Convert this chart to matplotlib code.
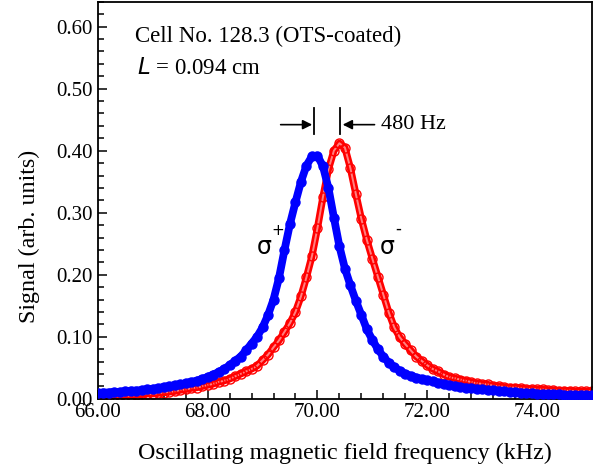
#!/usr/bin/env python3
"""Magnetic resonance signal vs oscillating field frequency, sigma+ / sigma- pumping."""

import matplotlib

matplotlib.use("Agg")
import matplotlib.pyplot as plt
import matplotlib.ticker as ticker
import numpy as np

# frequency grid (kHz), same for both traces
freq_khz = [
    66.0, 66.1, 66.2, 66.3, 66.4, 66.5, 66.6, 66.7, 66.8, 66.9,
    67.0, 67.1, 67.2, 67.3, 67.4, 67.5, 67.6, 67.7, 67.8, 67.9,
    68.0, 68.1, 68.2, 68.3, 68.4, 68.5, 68.6, 68.7, 68.8, 68.9,
    69.0, 69.1, 69.2, 69.3, 69.4, 69.5, 69.6, 69.7, 69.8, 69.9,
    70.0, 70.1, 70.2, 70.3, 70.4, 70.5, 70.6, 70.7, 70.8, 70.9,
    71.0, 71.1, 71.2, 71.3, 71.4, 71.5, 71.6, 71.7, 71.8, 71.9,
    72.0, 72.1, 72.2, 72.3, 72.4, 72.5, 72.6, 72.7, 72.8, 72.9,
    73.0, 73.1, 73.2, 73.3, 73.4, 73.5, 73.6, 73.7, 73.8, 73.9,
    74.0, 74.1, 74.2, 74.3, 74.4, 74.5, 74.6, 74.7, 74.8, 74.9,
    75.0,
]

sigma_plus = [
    0.009, 0.010, 0.010, 0.011, 0.011, 0.012, 0.013, 0.013, 0.014, 0.015,
    0.016, 0.017, 0.019, 0.020, 0.022, 0.023, 0.025, 0.027, 0.029, 0.032,
    0.035, 0.039, 0.043, 0.048, 0.054, 0.061, 0.068, 0.078, 0.089, 0.100,
    0.115, 0.135, 0.160, 0.195, 0.240, 0.282, 0.317, 0.350, 0.376, 0.391,
    0.392, 0.375, 0.340, 0.292, 0.246, 0.210, 0.183, 0.158, 0.135, 0.112,
    0.095, 0.080, 0.068, 0.058, 0.051, 0.045, 0.040, 0.037, 0.034, 0.032,
    0.030, 0.028, 0.026, 0.024, 0.022, 0.021, 0.019, 0.018, 0.017, 0.016,
    0.015, 0.014, 0.014, 0.013, 0.012, 0.011, 0.011, 0.010, 0.009, 0.009,
    0.008, 0.008, 0.007, 0.007, 0.007, 0.006, 0.006, 0.006, 0.006, 0.006,
    0.006,
]

sigma_minus = [
    0.002, 0.003, 0.003, 0.004, 0.004, 0.005, 0.005, 0.006, 0.007, 0.008,
    0.008, 0.009, 0.010, 0.011, 0.012, 0.014, 0.015, 0.017, 0.018, 0.020,
    0.022, 0.024, 0.027, 0.029, 0.032, 0.036, 0.040, 0.044, 0.048, 0.053,
    0.062, 0.071, 0.083, 0.094, 0.108, 0.122, 0.140, 0.165, 0.196, 0.230,
    0.275, 0.325, 0.370, 0.400, 0.412, 0.405, 0.372, 0.330, 0.290, 0.256,
    0.226, 0.197, 0.168, 0.139, 0.115, 0.099, 0.088, 0.078, 0.068, 0.061,
    0.054, 0.048, 0.044, 0.039, 0.035, 0.033, 0.031, 0.029, 0.027, 0.025,
    0.024, 0.023, 0.021, 0.020, 0.019, 0.018, 0.018, 0.017, 0.016, 0.016,
    0.015, 0.015, 0.014, 0.014, 0.013, 0.013, 0.013, 0.012, 0.012, 0.012,
    0.012,
]

peak_plus_khz = 69.945
peak_minus_khz = 70.42

plt.rcParams["font.family"] = ["Liberation Serif", "DejaVu Serif"]

fig = plt.figure(figsize=(6.04, 4.68), dpi=100)
ax = fig.add_axes([0.162, 0.148, 0.818, 0.848])

x = np.array(freq_khz)

# sigma+ : dense filled blue dots
ax.plot(x, sigma_plus, color="#0000ff", linewidth=5.6, solid_capstyle="round", zorder=3)
ax.plot(x, sigma_plus, "o", color="#0000ff", markersize=6.5, zorder=3)

# sigma- : dense open red circles (drawn as a hollow tube)
ax.plot(x, sigma_minus, color="#ff0000", linewidth=5.2, solid_capstyle="round", zorder=2)
ax.plot(x, sigma_minus, color="#ff8080", linewidth=1.4, zorder=2)
ax.plot(x, sigma_minus, "o", mfc="none", mec="#ff0000", mew=1.0, markersize=6.5, zorder=2)

ax.set_xlim(66.0, 75.0)
ax.set_ylim(0.0, 0.64)
ax.xaxis.set_major_locator(ticker.MultipleLocator(2.0))
ax.xaxis.set_minor_locator(ticker.MultipleLocator(0.4))
ax.yaxis.set_major_locator(ticker.MultipleLocator(0.1))
ax.yaxis.set_minor_locator(ticker.MultipleLocator(0.02))
ax.xaxis.set_major_formatter(ticker.FormatStrFormatter("%.2f"))
ax.yaxis.set_major_formatter(ticker.FormatStrFormatter("%.2f"))
ax.tick_params(which="both", direction="in", top=False, right=False, width=1.1, labelsize=15)
ax.tick_params(which="major", length=6.5)
ax.tick_params(axis="x", pad=3)
ax.tick_params(which="minor", length=4)
for spine in ax.spines.values():
    spine.set_linewidth(1.3)

ax.set_xlabel("Oscillating magnetic field frequency (kHz)", fontsize=17.3, labelpad=15)
ax.set_ylabel("Signal (arb. units)", fontsize=17.3)
ax.yaxis.set_label_coords(-0.117, 0.41)

ax.text(66.67, 0.585, "Cell No. 128.3 (OTS-coated)", fontsize=16.5, va="center", ha="left")
ax.text(66.71, 0.532, "$L$ = 0.094 cm", fontsize=16.5, va="center", ha="left")

# 480 Hz splitting marker
ax.plot([peak_plus_khz, peak_plus_khz], [0.427, 0.469], color="black", lw=1.3)
ax.plot([peak_minus_khz, peak_minus_khz], [0.427, 0.469], color="black", lw=1.3)
arrow_kw = dict(arrowstyle="-|>", color="black", lw=1.2, mutation_scale=14, shrinkA=0, shrinkB=0)
ax.annotate("", xy=(peak_plus_khz - 0.04, 0.442), xytext=(69.33, 0.442), arrowprops=arrow_kw)
ax.annotate("", xy=(peak_minus_khz + 0.04, 0.442), xytext=(71.04, 0.442), arrowprops=arrow_kw)
ax.text(71.15, 0.442, "480 Hz", fontsize=16, va="center", ha="left")

sigma_font = ["DejaVu Sans"]
ax.text(69.04, 0.245, "σ", fontsize=17, family=sigma_font, ha="center", va="center")
ax.text(69.28, 0.272, "+", fontsize=11, family=sigma_font, ha="center", va="center")
ax.text(71.27, 0.245, "σ", fontsize=17, family=sigma_font, ha="center", va="center")
ax.text(71.47, 0.274, "-", fontsize=12, family=sigma_font, ha="center", va="center")

fig.savefig("out.png", dpi=100, facecolor="white")
plt.close(fig)
